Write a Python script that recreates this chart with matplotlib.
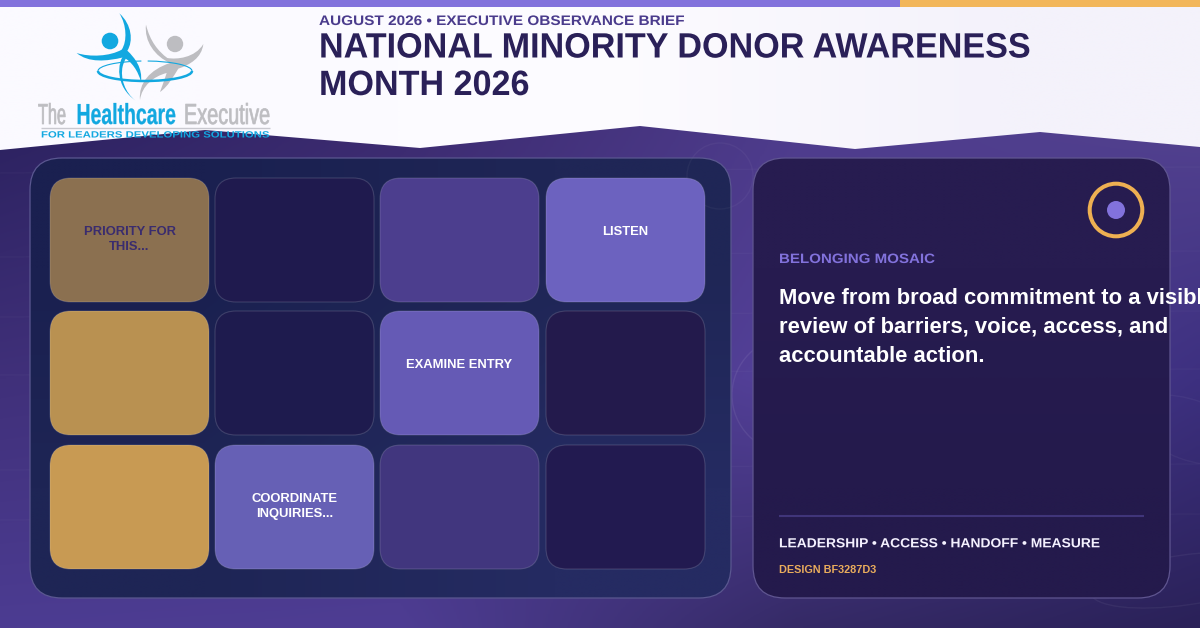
"""Belonging mosaic card for the observance brief."""

import matplotlib

matplotlib.use("Agg")

import matplotlib.pyplot as plt
import numpy as np
from matplotlib.colors import to_rgb
from matplotlib.patches import Arc, Circle, Ellipse, FancyBboxPatch, PathPatch, Polygon
from matplotlib.path import Path
from matplotlib.patheffects import AbstractPathEffect
from matplotlib.transforms import Affine2D

plt.rcParams["font.family"] = ["Liberation Sans", "DejaVu Sans"]

eyebrow = "AUGUST 2026 • EXECUTIVE OBSERVANCE BRIEF"
title_lines = ["NATIONAL MINORITY DONOR AWARENESS", "MONTH 2026"]
logo_words = ["The", "Healthcare", "Executive"]
logo_tagline = "FOR LEADERS DEVELOPING SOLUTIONS"
cell_labels = [
    ["PRIORITY FOR\nTHIS...", "", "", "LISTEN"],
    ["", "", "EXAMINE ENTRY", ""],
    ["", "COORDINATE\nINQUIRIES...", "", ""],
]
cell_colors = [
    ["#8b7050", "#1f1a4e", "#4c3e8e", "#6c62bf"],
    ["#b99151", "#1e1b4e", "#655ab5", "#231a4c"],
    ["#c89a53", "#6660b5", "#41367e", "#221a50"],
]
side_kicker = "BELONGING MOSAIC"
side_lines = [
    "Move from broad commitment to a visible",
    "review of barriers, voice, access, and",
    "accountable action.",
]
side_tags = "LEADERSHIP • ACCESS • HANDOFF • MEASURE"
side_code = "DESIGN BF3287D3"

PURPLE = "#8272dc"
GOLD = "#eeb052"
INK = "#2a2058"
BLUE = "#12a8e0"
GREY = "#bdbdc1"
HAIRLINE = (1, 1, 1, 0.15)


class SquashY(AbstractPathEffect):
    """Scale glyph heights about the baseline, for tracked or condensed lettering."""

    def __init__(self, factor, stroke=0.0):
        super().__init__()
        self.factor = factor
        self.stroke = stroke

    def draw_path(self, renderer, gc, tpath, affine, rgbFace=None):
        base = affine.get_matrix()[1, 2]
        squash = Affine2D().translate(0, -base).scale(1, self.factor).translate(0, base)
        if self.stroke:
            gc.set_linewidth(self.stroke)
            gc.set_foreground(rgbFace)
        renderer.draw_path(gc, tpath, affine + squash, rgbFace)


def rounded(ax, x0, y0, x1, y1, r, **kw):
    box = FancyBboxPatch(
        (x0 + r, y0 + r), x1 - x0 - 2 * r, y1 - y0 - 2 * r,
        boxstyle=f"round,pad={r},rounding_size={r}", **kw,
    )
    ax.add_patch(box)
    return box


def wash(ax, colors, extent, zorder, clip=None):
    rgb = np.array([[to_rgb(c) for c in row] for row in colors])
    im = ax.imshow(rgb, extent=extent, interpolation="bilinear", aspect="auto", zorder=zorder)
    if clip is not None:
        im.set_clip_path(clip)
    return im


def shape(ax, pts, color):
    # pts are cubic segments in 3x crop coordinates of the logo
    xy = [(70 + x / 3, 8 + y / 3) for x, y in pts]
    codes = [Path.MOVETO] + [Path.CURVE4] * (len(xy) - 1)
    ax.add_patch(PathPatch(Path(xy, codes), fc=color, ec="none", zorder=6))


def label(ax, x, y, s, size, color, squash=None, stroke=0.0, **kw):
    kw.setdefault("ha", "left")
    kw.setdefault("weight", "bold")
    t = ax.text(x, y, s, va="baseline", fontsize=size, color=color, zorder=8, **kw)
    if squash:
        t.set_path_effects([SquashY(squash, stroke)])
    return t


fig = plt.figure(figsize=(12, 6.28), dpi=100)
ax = fig.add_axes([0, 0, 1, 1])

# background wash, extent chosen so the colour stops sit on x 0/400/800/1200 and y 130/380/628
wash(ax, [
    ["#2c2260", "#3c2b70", "#4e3c8c", "#52418f"],
    ["#40307a", "#44337f", "#54419a", "#3d3080"],
    ["#4c3c92", "#4e3d93", "#352a66", "#2a2158"],
], (-200, 1400, 753, 5), 0)
ax.set_xlim(0, 1200)
ax.set_ylim(628, 0)
ax.axis("off")

# faint linework behind the panels
ax.add_patch(Circle((720, 176), 33, fc="none", ec="#ffffff", alpha=0.04, lw=1, zorder=4.5))
ax.add_patch(Circle((790, 395), 58, fc="none", ec="#ffffff", alpha=0.07, lw=1, zorder=1))
ax.add_patch(Ellipse((1185, 580), 190, 50, angle=-8, fc="none", ec="#ffffff", alpha=0.05, lw=1, zorder=1))
ax.add_patch(Ellipse((1190, 430), 120, 60, angle=20, fc="none", ec="#ffffff", alpha=0.04, lw=1, zorder=1))
for y in [173, 257, 317, 375, 470, 520]:
    ax.plot([0, 1200], [y, y - 6], color="#ffffff", alpha=0.03, lw=0.8, zorder=1)

# header sheet with zigzag lower edge
edge_x = [0, 205, 420, 640, 855, 1040, 1200]
edge_y = [150, 130, 148, 126, 149, 132, 147]
sheet = Polygon([(0, 0)] + list(zip(edge_x, edge_y)) + [(1200, 0)], fc="none", ec="none", zorder=2)
ax.add_patch(sheet)
wash(ax, [["#fbfaff", "#fdfcff", "#f4f2fb"]], (0, 1200, 151, 0), 2, clip=sheet)
ax.fill_between([0, 900], 0, 7, color=PURPLE, lw=0, zorder=3)
ax.fill_between([900, 1200], 0, 7, color="#f2b65a", lw=0, zorder=3)

# logo
ax.add_patch(Circle((110, 41), 8.3, fc=BLUE, ec="none", zorder=6))
ax.add_patch(Circle((175, 44), 8.2, fc=GREY, ec="none", zorder=6))
shape(ax, [(228, 50), (240, 100), (265, 130), (292, 150),
           (320, 155), (375, 150), (400, 108),
           (395, 150), (360, 170), (325, 182),
           (310, 205), (295, 235), (270, 252),
           (280, 225), (285, 210), (290, 195),
           (250, 205), (215, 235), (210, 276),
           (205, 225), (240, 185), (300, 165),
           (255, 145), (222, 100), (228, 50)], GREY)
shape(ax, [(148, 16), (186, 50), (190, 100), (172, 128),
           (195, 150), (218, 180), (213, 222),
           (205, 190), (185, 160), (160, 148),
           (110, 160), (55, 165), (20, 135),
           (60, 148), (120, 145), (155, 125),
           (172, 100), (170, 50), (148, 16)], BLUE)
shape(ax, [(165, 135), (140, 165), (135, 235), (197, 278),
           (165, 255), (150, 210), (158, 175),
           (162, 160), (170, 145), (178, 138),
           (175, 137), (170, 136), (165, 135)], BLUE)
ax.add_patch(Arc((145, 71), 94, 20, theta1=0, theta2=180, ec=BLUE, lw=1.8, zorder=7))
ax.add_patch(Arc((145, 71), 94, 20, theta1=180, theta2=250, ec=BLUE, lw=0.8, zorder=7))
ax.add_patch(Arc((145, 71), 94, 20, theta1=285, theta2=360, ec=BLUE, lw=0.8, zorder=7))
label(ax, 38, 124, logo_words[0], 11.7, GREY, squash=1.78, stroke=0.5, weight="normal")
label(ax, 76.5, 124, logo_words[1], 14, BLUE, squash=1.49, stroke=0.2)
label(ax, 184, 124, logo_words[2], 14.3, GREY, squash=1.46, stroke=0.5, weight="normal")
ax.plot([41, 270], [127.8, 127.8], color="#c9c9d0", lw=1, solid_capstyle="butt", zorder=7)
label(ax, 41, 137.5, logo_tagline, 8.18, BLUE, squash=0.8)

# header text
label(ax, 319, 25, eyebrow, 11.05, "#4a3b8c", squash=0.9)
for y, line in zip([57.5, 95], title_lines):
    label(ax, 319, y, line, 24.57, INK, squash=1.03)

# mosaic panel
panel = rounded(ax, 30, 158, 731, 598, 32, fc="none", ec="#5a5790", lw=0.9, zorder=5)
wash(ax, [["#1a2050", "#1f2656"], ["#1e2555", "#252b62"]], (30, 731, 598, 158), 4, clip=panel)
col_edges = [(50, 209), (215, 374), (380, 539), (546, 705)]
row_edges = [(178, 302), (311, 435), (445, 569)]
for r, (y0, y1) in enumerate(row_edges):
    for c, (x0, x1) in enumerate(col_edges):
        rounded(ax, x0, y0, x1, y1, 21, fc=cell_colors[r][c], ec=HAIRLINE, lw=0.8, zorder=5)
        text = cell_labels[r][c]
        if text:
            # baseline anchors on the last line of a wrapped label
            last = y0 + 57 + 15 * text.count("\n")
            color = "#3a2c6e" if (r, c) == (0, 0) else "#ffffff"
            label(ax, (x0 + x1) / 2, last, text, 9.4, color, ha="center", linespacing=1.31)

# side panel
side = rounded(ax, 753, 158, 1170, 598, 32, fc="none", ec="#5f5590", lw=0.9, zorder=5)
wash(ax, [["#271c50"], ["#241a4c"]], (753, 1170, 598, 158), 4, clip=side)
ax.add_patch(Circle((1116, 210), 26.3, fc="none", ec=GOLD, lw=2.9, zorder=6))
ax.add_patch(Circle((1116, 210), 9, fc=PURPLE, ec="none", zorder=6))
label(ax, 779, 263, side_kicker, 10.87, PURPLE, squash=0.9)
for y, line in zip([304, 333, 362], side_lines):
    label(ax, 779, y, line, 15.87, "#ffffff")
ax.plot([779, 1144], [515.7, 515.7], color="#40357a", lw=1.5, solid_capstyle="butt", zorder=6)
label(ax, 779, 547.3, side_tags, 9.98, "#f4f1ff", squash=0.95)
label(ax, 779, 573.2, side_code, 7.85, "#e9ac5c")

fig.savefig("out.png", dpi=100)
plt.close(fig)
